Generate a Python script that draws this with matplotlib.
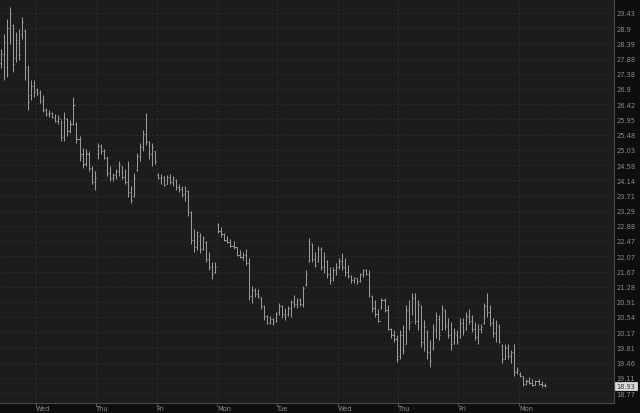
import matplotlib
matplotlib.use("Agg")
import matplotlib.pyplot as plt
from matplotlib.collections import LineCollection
from matplotlib.ticker import FixedLocator, NullLocator

highs = [28.19, 28.70, 29.22, 29.64, 29.04, 28.76, 28.87, 29.29, 28.87, 27.68,
         27.19, 27.19, 26.93, 26.87, 26.71, 26.29, 26.23, 26.17, 26.11, 26.08,
         25.92, 26.17, 25.98, 25.92, 26.65, 25.86, 25.45, 25.09, 25.06, 25.00,
         24.55, 24.41, 25.24, 25.21, 25.06, 24.85, 24.55, 24.35, 24.46, 24.70,
         24.55, 24.46, 24.70, 23.97, 24.35, 24.94, 25.24, 25.61, 26.14, 25.30,
         25.24, 25.00, 24.35, 24.32, 24.26, 24.29, 24.32, 24.26, 24.17, 24.05,
         23.97, 23.97, 23.88, 23.29, 22.80, 22.75, 22.69, 22.61, 22.47, 22.17,
         21.91, 21.91, 22.96, 22.85, 22.69, 22.61, 22.53, 22.47, 22.32, 22.22,
         22.17, 22.27, 22.02, 21.31, 21.26, 21.23, 21.03, 20.84, 20.59, 20.57,
         20.52, 20.66, 20.89, 20.84, 20.76, 20.81, 20.96, 21.07, 21.00, 21.00,
         21.31, 21.70, 22.55, 22.42, 22.17, 22.35, 22.30, 22.17, 21.97, 21.78,
         21.78, 21.88, 22.02, 22.14, 22.02, 21.83, 21.59, 21.54, 21.51, 21.64,
         21.75, 21.75, 21.70, 21.07, 20.96, 20.73, 21.00, 21.00, 20.84, 20.27,
         20.22, 20.10, 20.22, 20.34, 20.84, 20.96, 21.12, 21.14, 20.96, 20.84,
         20.47, 20.22, 19.99, 20.36, 20.66, 20.59, 20.84, 20.73, 20.52, 20.42,
         20.27, 20.22, 20.52, 20.52, 20.66, 20.73, 20.59, 20.42, 20.36, 20.36,
         20.89, 21.14, 20.84, 20.52, 20.47, 20.36, 19.88, 19.88, 19.88, 19.76,
         19.88, 19.35, 19.24, 19.15, 19.09, 19.13, 19.09, 19.06, 19.09, 19.04,
         19.00]
lows = [27.58, 27.19, 27.28, 28.36, 27.45, 27.78, 27.85, 28.53, 27.19, 26.23,
        26.55, 26.65, 26.71, 26.45, 26.17, 26.05, 26.01, 25.98, 25.86, 25.80,
        25.30, 25.30, 25.45, 25.54, 25.77, 25.24, 24.70, 24.49, 24.55, 24.41,
        24.03, 23.88, 24.76, 24.91, 24.76, 24.26, 24.11, 24.11, 24.17, 24.26,
        24.17, 24.05, 23.68, 23.50, 23.68, 24.41, 24.70, 25.00, 25.16, 24.76,
        24.55, 24.61, 24.17, 24.05, 23.97, 24.05, 24.03, 23.97, 23.88, 23.82,
        23.68, 23.55, 23.15, 22.40, 22.17, 22.22, 22.14, 22.22, 21.91, 21.70,
        21.49, 21.64, 22.69, 22.58, 22.47, 22.42, 22.32, 22.27, 22.07, 22.02,
        21.97, 21.85, 20.96, 20.89, 21.03, 21.00, 20.73, 20.47, 20.36, 20.36,
        20.34, 20.42, 20.59, 20.52, 20.47, 20.57, 20.54, 20.79, 20.76, 20.81,
        20.79, 21.31, 21.91, 21.91, 21.78, 21.91, 21.70, 21.64, 21.51, 21.36,
        21.44, 21.59, 21.75, 21.70, 21.57, 21.51, 21.38, 21.38, 21.36, 21.41,
        21.54, 21.59, 21.03, 20.66, 20.54, 20.41, 20.73, 20.66, 20.22, 20.03,
        19.94, 19.48, 19.53, 19.65, 19.88, 20.22, 20.59, 20.36, 20.22, 19.81,
        19.72, 19.53, 19.35, 19.76, 20.03, 19.99, 20.22, 20.22, 20.03, 19.76,
        19.88, 19.88, 20.03, 20.10, 20.22, 20.36, 20.17, 19.99, 19.88, 20.15,
        20.36, 20.54, 20.31, 20.06, 19.94, 19.92, 19.46, 19.53, 19.53, 19.46,
        19.15, 19.20, 19.13, 18.93, 18.95, 18.98, 18.93, 18.95, 18.95, 18.91,
        18.91]
opens = [27.75, 28.05, 27.60, 28.90, 29.00, 27.90, 28.40, 28.70, 28.80, 27.50,
         26.70, 27.00, 26.85, 26.80, 26.55, 26.25, 26.10, 26.15, 26.00, 25.90,
         25.95, 25.40, 25.95, 25.60, 25.80, 25.80, 25.35, 24.90, 24.60, 24.90,
         24.50, 24.10, 24.90, 25.15, 25.00, 24.80, 24.35, 24.20, 24.30, 24.40,
         24.55, 24.25, 24.10, 23.80, 23.70, 24.45, 24.85, 25.10, 25.50, 25.25,
         24.90, 25.00, 24.30, 24.20, 24.25, 24.05, 24.25, 24.10, 24.15, 23.95,
         23.90, 23.75, 23.85, 23.25, 22.50, 22.30, 22.60, 22.25, 22.45, 22.00,
         21.80, 21.65, 22.90, 22.75, 22.65, 22.50, 22.45, 22.35, 22.30, 22.10,
         22.05, 22.10, 21.90, 21.05, 21.20, 21.10, 21.00, 20.80, 20.55, 20.40,
         20.50, 20.45, 20.65, 20.80, 20.60, 20.60, 20.75, 20.90, 20.85, 20.95,
         20.85, 21.35, 21.95, 22.40, 22.00, 21.95, 22.25, 21.80, 21.95, 21.60,
         21.50, 21.70, 21.80, 21.95, 21.80, 21.65, 21.55, 21.45, 21.50, 21.42,
         21.60, 21.70, 21.62, 21.05, 20.75, 20.60, 20.75, 20.95, 20.70, 20.25,
         20.10, 20.00, 19.60, 20.10, 19.90, 20.70, 20.45, 21.00, 20.45, 20.80,
         19.95, 20.20, 19.70, 19.80, 20.20, 20.50, 20.25, 20.70, 20.35, 20.10,
         19.95, 20.10, 20.05, 20.40, 20.25, 20.55, 20.45, 20.25, 20.05, 20.25,
         20.40, 20.80, 20.65, 20.40, 20.15, 20.30, 19.85, 19.55, 19.80, 19.60,
         19.70, 19.25, 19.20, 19.15, 18.98, 19.05, 19.00, 18.96, 19.03, 18.98,
         18.95]
closes = [28.05, 28.45, 28.90, 29.40, 27.70, 28.50, 28.00, 29.10, 27.60, 26.50,
          27.00, 26.80, 26.75, 26.50, 26.25, 26.10, 26.15, 26.02, 25.90, 26.00,
          25.40, 26.00, 25.60, 25.80, 26.40, 25.35, 24.85, 24.60, 24.95, 24.50,
          24.10, 24.20, 25.15, 25.00, 24.80, 24.35, 24.20, 24.30, 24.40, 24.60,
          24.25, 24.10, 23.80, 23.60, 24.20, 24.85, 25.10, 25.50, 25.30, 24.90,
          25.10, 24.70, 24.20, 24.25, 24.00, 24.25, 24.10, 24.20, 23.95, 23.90,
          23.75, 23.85, 23.25, 22.50, 22.30, 22.70, 22.25, 22.55, 22.00, 21.80,
          21.60, 21.80, 22.75, 22.65, 22.50, 22.45, 22.35, 22.30, 22.10, 22.05,
          22.10, 21.90, 21.05, 21.20, 21.10, 21.05, 20.80, 20.55, 20.40, 20.50,
          20.40, 20.60, 20.80, 20.60, 20.55, 20.75, 20.90, 20.85, 20.95, 20.85,
          21.25, 21.60, 22.45, 22.00, 21.85, 22.25, 21.80, 22.05, 21.60, 21.45,
          21.70, 21.80, 21.95, 21.80, 21.65, 21.55, 21.45, 21.50, 21.42, 21.60,
          21.70, 21.62, 21.10, 20.75, 20.60, 20.45, 20.95, 20.70, 20.25, 20.10,
          20.00, 19.55, 20.10, 19.75, 20.70, 20.40, 21.00, 20.45, 20.85, 19.95,
          20.30, 19.70, 19.50, 20.25, 20.55, 20.10, 20.75, 20.30, 20.10, 19.90,
          20.15, 19.95, 20.40, 20.20, 20.55, 20.45, 20.25, 20.05, 20.25, 20.30,
          20.80, 20.65, 20.40, 20.15, 20.35, 19.95, 19.55, 19.80, 19.60, 19.70,
          19.25, 19.30, 19.15, 18.98, 19.05, 19.00, 18.96, 19.03, 18.98, 18.95,
          18.93]

day_labels = ["Wed", "Thu", "Fri", "Mon", "Tue", "Wed", "Thu", "Fri", "Mon"]
day_starts = [12, 32, 52, 72, 92, 112, 132, 152, 172]
y_ticks = [29.43, 28.9, 28.39, 27.88, 27.38, 26.9, 26.42, 25.95, 25.48, 25.03,
           24.58, 24.14, 23.71, 23.29, 22.88, 22.47, 22.07, 21.67, 21.28, 20.91,
           20.54, 20.17, 19.81, 19.46, 19.11, 18.77]

BG_OUT = "#0e0e0e"
BG_IN = "#1c1c1c"
BAR = "#9c9c9c"
TXT = "#8c8c8c"
GRID = "#3a3a3a"

W, H = 640, 414
fig = plt.figure(figsize=(W / 100, H / 100), dpi=100, facecolor=BG_OUT)
ax = fig.add_axes([0, 10 / H, 614 / W, 404 / H])
ax.set_facecolor(BG_IN)

xs = list(range(len(highs)))
segs = []
tw = 0.36
for x, h, l, o, c in zip(xs, highs, lows, opens, closes):
    segs.append([(x, l), (x, h)])
    segs.append([(x - tw, o), (x, o)])
    segs.append([(x, c), (x + tw, c)])
ax.add_collection(LineCollection(segs, colors=BAR, linewidths=0.72))

ax.set_yscale("log")
ax.set_ylim(18.55, 29.92)
ax.set_xlim(-0.33, 203)

ax.yaxis.set_major_locator(FixedLocator(y_ticks))
ax.yaxis.set_minor_locator(NullLocator())
ax.set_yticklabels([f"{v:g}" for v in y_ticks])
ax.yaxis.tick_right()
ax.tick_params(axis="y", length=0, pad=2, labelsize=4.8, labelcolor=TXT)

vt = [d - 0.5 for d in day_starts]
ax.xaxis.set_major_locator(FixedLocator(vt))
ax.xaxis.set_minor_locator(NullLocator())
ax.set_xticklabels([])
ax.tick_params(axis="x", length=2, color="#555555")
for v, lab in zip(vt, day_labels):
    ax.text(v, -5 / 404, lab, transform=ax.get_xaxis_transform(),
            ha="left", va="center", fontsize=4.8, color=TXT)

ax.grid(True, which="major", color=GRID, linestyle=(0, (1, 3)), linewidth=0.7)
ax.set_axisbelow(True)

for s in ["left", "top"]:
    ax.spines[s].set_visible(False)
for s in ["right", "bottom"]:
    ax.spines[s].set_color("#4a4a4a")
    ax.spines[s].set_linewidth(0.8)

last = closes[-1]
ax.text(1.004, last, f"{last:.2f}", transform=ax.get_yaxis_transform(),
        ha="left", va="center", fontsize=4.8, color="#3a3a3a",
        bbox=dict(boxstyle="square,pad=0.2", facecolor="#d8d8d8",
                  edgecolor="#eeeeee", linewidth=0.5))

fig.savefig("out.png", dpi=100, facecolor=BG_OUT)
